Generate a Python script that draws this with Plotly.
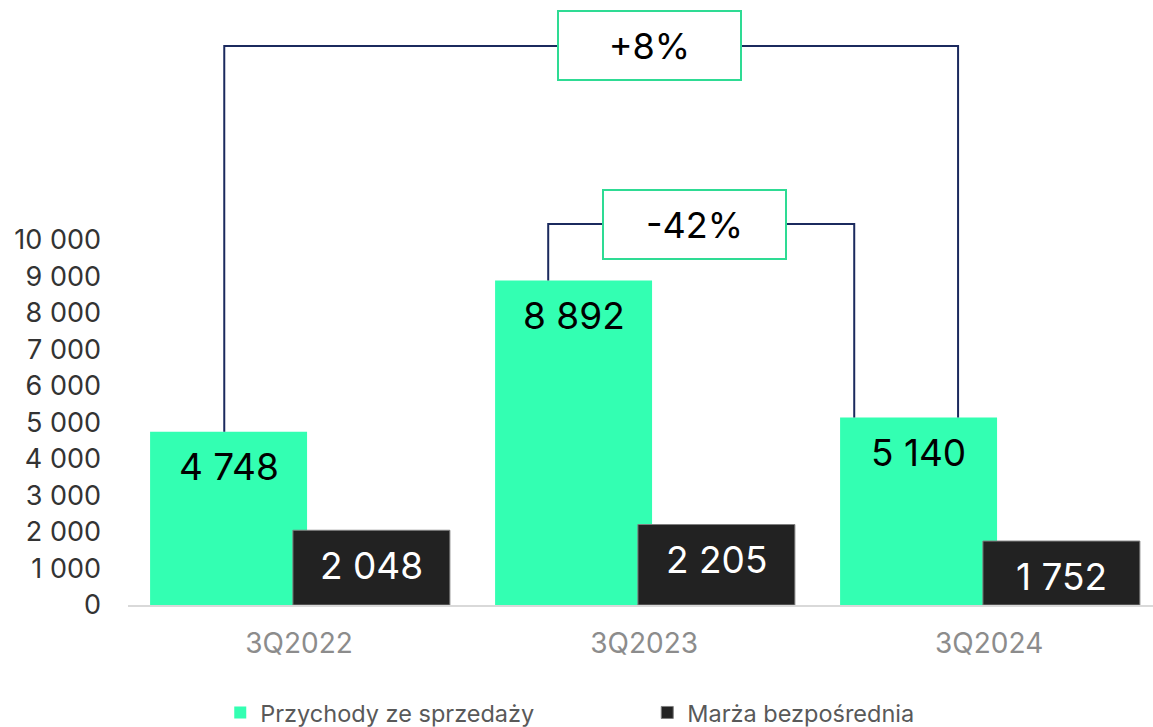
import plotly.graph_objects as go

categories = ["3Q2022", "3Q2023", "3Q2024"]
revenue = [4748, 8892, 5140]
direct_margin = [2048, 2205, 1752]
series_names = ["Przychody ze sprzedaży", "Marża bezpośrednia"]
y_ticks = [0, 1000, 2000, 3000, 4000, 5000, 6000, 7000, 8000, 9000, 10000]

# comparisons: (from index, to index, label)
comparisons = [(0, 2, "+8%"), (1, 2, "-42%")]

GREEN = "#33FFB2"
DARK = "#222222"
NAVY = "#1B2A5E"
BOX = "#2EDB94"
FONT = "Inter"

def fmt(v):
    return f"{v:,}".replace(",", " ")

x = list(range(len(categories)))
W = 0.455
OFF_G = -0.432
OFF_B = -0.018

fig = go.Figure()
fig.add_trace(go.Bar(x=x, y=revenue, name=series_names[0], marker_color=GREEN,
                     width=W, offset=OFF_G, marker_line_width=0))
fig.add_trace(go.Bar(x=x, y=direct_margin, name=series_names[1], marker_color=DARK,
                     width=W, offset=OFF_B, marker_line=dict(color="#7f7f7f", width=1)))

annotations = []
for i in x:
    annotations.append(dict(x=i + OFF_G + W / 2, y=revenue[i], text=fmt(revenue[i]),
                            showarrow=False, yanchor="middle", yshift=-35,
                            font=dict(family=FONT, size=37, color="#000000")))
    annotations.append(dict(x=i + OFF_B + W / 2, y=direct_margin[i], text=fmt(direct_margin[i]),
                            showarrow=False, yanchor="middle", yshift=-35,
                            font=dict(family=FONT, size=37, color="#ffffff")))

# bracket geometry (layout: category-unit x positions, value level)
bracket_cfg = [
    dict(xl=-0.217, xr=1.910, level=15315, bx=1.016),
    dict(xl=0.722, xr=1.609, level=10438, bx=1.145),
]
shapes = []
for (a, b, label), cfg in zip(comparisons, bracket_cfg):
    path = (f"M {cfg['xl']},{revenue[a]} L {cfg['xl']},{cfg['level']} "
            f"L {cfg['xr']},{cfg['level']} L {cfg['xr']},{revenue[b]}")
    shapes.append(dict(type="path", path=path, xref="x", yref="y",
                       line=dict(color=NAVY, width=2)))
    annotations.append(dict(x=cfg["bx"], y=cfg["level"], text=label, showarrow=False,
                            xanchor="center", yanchor="middle", width=181, height=67,
                            bgcolor="#ffffff", bordercolor=BOX, borderwidth=2, borderpad=0,
                            font=dict(family=FONT, size=36, color="#000000")))

fig.update_layout(
    width=1153, height=727,
    margin=dict(l=128, r=0, t=0, b=122, autoexpand=False),
    plot_bgcolor="#ffffff", paper_bgcolor="#ffffff",
    barmode="overlay",
    font=dict(family=FONT),
    showlegend=True,
    legend=dict(orientation="h", x=0.090, xanchor="left", y=-0.178, yanchor="middle",
                font=dict(family=FONT, size=23.5, color="#595959"),
                entrywidth=382, entrywidthmode="pixels", traceorder="normal"),
    xaxis=dict(range=[-0.496, 2.475], tickvals=x, ticktext=categories, automargin=False,
               showline=True, linecolor="#d9d9d9", linewidth=2, showgrid=False,
               zeroline=False, ticks="", tickfont=dict(family=FONT, size=28, color="#8c8c8c"),
               ticklabelstandoff=12),
    yaxis=dict(range=[0, 16575], tickvals=y_ticks, ticktext=[fmt(v) for v in y_ticks],
               automargin=False,
               showgrid=False, zeroline=False, showline=False, ticks="",
               tickfont=dict(family=FONT, size=27, color="#333333"), ticklabelstandoff=26),
    shapes=shapes,
    annotations=annotations,
)

fig.write_html("out.html",
               config={"displayModeBar": False},
               post_script="document.body.style.margin='0';"
                           "document.documentElement.style.overflow='hidden';"
                           "document.body.style.overflow='hidden';")
